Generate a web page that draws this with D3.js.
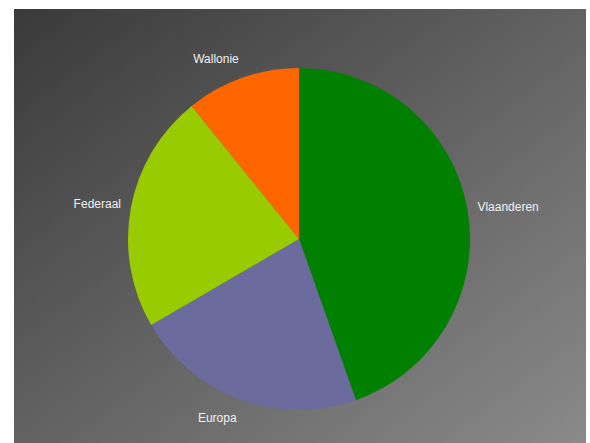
<!DOCTYPE html>
<html>
<head>
<meta charset="utf-8">
<script src="https://cdn.jsdelivr.net/npm/d3@7"></script>
<style>
  body { margin: 0; background: #fff; }
  svg { display: block; }
</style>
</head>
<body>
<div id="chart"></div>
<script>
// slice data, clockwise from 12 o'clock
var regions = ["Vlaanderen", "Europa", "Federaal", "Wallonie"];
var shares = [44.6, 22.0, 22.6, 10.8];
var colors = ["#008000", "#6b6b9e", "#99cc00", "#ff6600"];

var svgWidth = 590;
var svgHeight = 443;

var svg = d3.select("#chart").append("svg")
  .attr("width", svgWidth)
  .attr("height", svgHeight);

// gray gradient backdrop
var grad = svg.append("defs").append("linearGradient")
  .attr("id", "bg")
  .attr("x1", "0").attr("y1", "0")
  .attr("x2", "1").attr("y2", "1");
grad.append("stop").attr("offset", "0%").attr("stop-color", "#3a3a3a");
grad.append("stop").attr("offset", "100%").attr("stop-color", "#8a8a8a");

svg.append("rect")
  .attr("x", 14).attr("y", 9)
  .attr("width", 572).attr("height", 434)
  .attr("fill", "url(#bg)");

var cx = 299, cy = 239, radius = 171;

var pie = d3.pie().sort(null).value(function(d){ return d; });
var arcs = pie(shares);

var arc = d3.arc().innerRadius(0).outerRadius(radius);
var labelArc = d3.arc().innerRadius(radius + 10).outerRadius(radius + 10);

var chartGroup = svg.append("g")
  .attr("transform", `translate(${cx},${cy})`);

chartGroup.selectAll("path")
  .data(arcs)
  .enter().append("path")
  .attr("d", arc)
  .attr("fill", function(d, i){ return colors[i]; });

// labels sit outside the rim, pushed away from the pie like a text box
chartGroup.selectAll("text")
  .data(arcs)
  .enter().append("text")
  .attr("transform", function(d){
    var c = labelArc.centroid(d);
    var mid = (d.startAngle + d.endAngle) / 2;
    return `translate(${c[0]},${c[1] - Math.cos(mid) * 10 + 4})`;
  })
  .attr("text-anchor", function(d){
    var mid = (d.startAngle + d.endAngle) / 2;
    return Math.sin(mid) > 0 ? "start" : "end";
  })
  .attr("font-family", "Liberation Sans, Arial, sans-serif")
  .attr("font-size", 12)
  .attr("fill", "#f0f0f0")
  .text(function(d, i){ return regions[i]; });
</script>
</body>
</html>
